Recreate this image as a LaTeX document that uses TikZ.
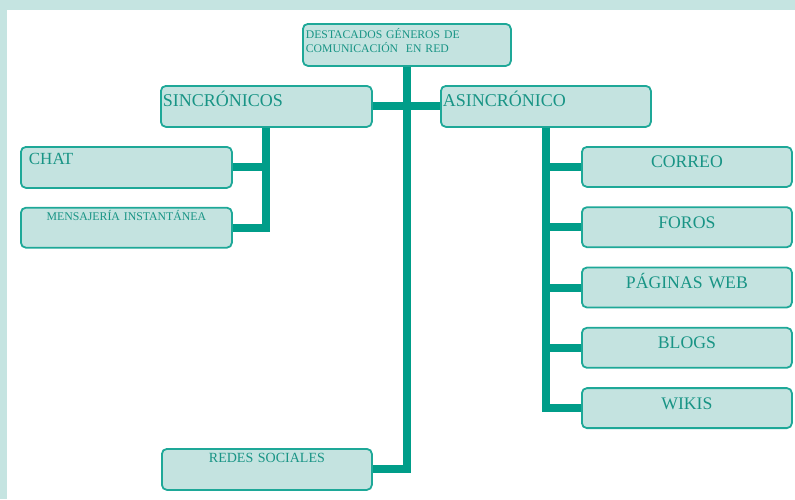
\documentclass[tikz,border=0pt]{standalone}
\usepackage{fontspec}
\setmainfont{Liberation Serif}
\usetikzlibrary{positioning}

\definecolor{bandfill}{RGB}{197,228,225}
\definecolor{boxfill}{RGB}{196,227,224}
\definecolor{boxline}{RGB}{30,168,152}
\definecolor{barcol}{RGB}{0,157,137}
\definecolor{txt}{RGB}{24,148,133}

\tikzset{
  box/.style={draw=boxline, fill=boxfill, rounded corners=5pt, line width=1.8pt,
              inner ysep=0pt, text=txt},
  head/.style={box, font=\fontsize{11.7}{13.5}\selectfont, inner xsep=3pt,
               text width=202pt, align=left, text height=15pt, text depth=27pt},
  group/.style={box, font=\fontsize{18}{20}\selectfont, inner xsep=2pt,
                text width=207pt, align=left, text height=21pt, text depth=20pt},
  item/.style={box, font=\fontsize{17.7}{20}\selectfont, inner xsep=2pt,
               text width=206pt, align=center, text height=21pt, text depth=19pt},
  bar/.style={draw=barcol, line width=8pt}
}

\begin{document}
\begin{tikzpicture}[x=1pt, y=-1pt]
  \useasboundingbox (0,0) rectangle (795,499);
  % frame
  \fill[bandfill] (0,0) rectangle (795,10);
  \fill[bandfill] (0,0) rectangle (7,499);

  \node[head, anchor=north west] (title) at (302,23) {DESTACADOS GÉNEROS DE\\COMUNICACIÓN\ \ EN RED};

  \node[group, anchor=north west] (sinc) at (160,85) {SINCRÓNICOS};
  \node[group, anchor=north west, text width=206pt] (asinc) at (440,85) {ASINCRÓNICO};

  \node[box, anchor=north west, font=\fontsize{17}{20}\selectfont, inner xsep=8pt, text width=195pt,
        align=left, text height=18pt, text depth=23pt] (chat) at (20,146) {CHAT};
  \node[box, font=\fontsize{11.8}{14}\selectfont, inner xsep=2pt, text width=207pt,
        align=center, text height=13pt, text depth=27pt] (mens) [below=18pt of chat] {MENSAJERÍA INSTANTÁNEA};

  \node[item, anchor=north west] (correo) at (581,146) {CORREO};
  \node[item] (foros) [below=18.5pt of correo] {FOROS};
  \node[item] (web) [below=18.5pt of foros] {PÁGINAS WEB};
  \node[item] (blogs) [below=18.5pt of web] {BLOGS};
  \node[item] (wikis) [below=18.5pt of blogs] {WIKIS};

  \node[box, anchor=north west, font=\fontsize{14}{16}\selectfont, inner xsep=2pt, text width=206pt,
        align=center, text height=14pt, text depth=27pt] (redes) at (161,448) {REDES SOCIALES};

  % connectors
  \draw[bar] (title.south) |- (redes.east);
  \draw[bar] (sinc.east) -- (asinc.west);
  \draw[bar] (sinc.south) |- (chat.east);
  \draw[bar] (sinc.south) |- (mens.east);
  \foreach \n in {correo, foros, web, blogs, wikis}
    \draw[bar] (asinc.south) |- (\n.west);
\end{tikzpicture}
\end{document}
